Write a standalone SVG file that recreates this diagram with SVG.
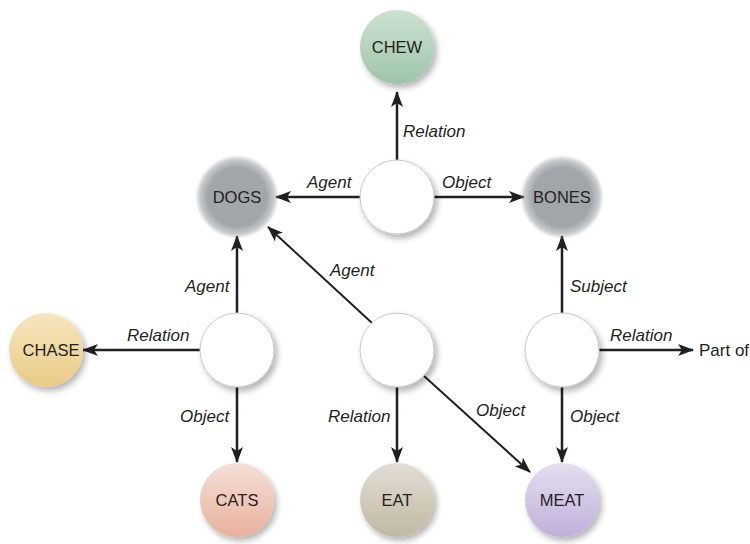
<svg xmlns="http://www.w3.org/2000/svg" width="750" height="544" viewBox="0 0 750 544">
<defs>
<style>
.lbl{font-family:"Liberation Sans",Arial,sans-serif;font-size:16.5px;fill:#231f20;text-anchor:middle}
.el{font-family:"Liberation Sans",Arial,sans-serif;font-size:17px;font-style:italic;fill:#231f20}
.pl{font-family:"Liberation Sans",Arial,sans-serif;font-size:17px;fill:#231f20}
.ln{stroke:#231f20;stroke-width:2.5;fill:none;marker-end:url(#ah)}
.hub{fill:#fff;stroke:#c8c8c8;stroke-width:1}
</style>
<marker id="ah" markerUnits="userSpaceOnUse" markerWidth="16" markerHeight="12" viewBox="0 0 16 12" refX="15" refY="6" orient="auto">
<path d="M0,0 L16,6 L0,12 L4,6 z" fill="#231f20"/>
</marker>
<filter id="sh" x="-30%" y="-30%" width="170%" height="170%">
<feGaussianBlur in="SourceAlpha" stdDeviation="3"/>
<feOffset dx="3" dy="4" result="b"/>
<feComponentTransfer><feFuncA type="linear" slope="0.3"/></feComponentTransfer>
<feMerge><feMergeNode/><feMergeNode in="SourceGraphic"/></feMerge>
</filter>
<radialGradient id="gGray">
<stop offset="0" stop-color="#a1a6ab"/>
<stop offset="0.7" stop-color="#a1a6ab"/>
<stop offset="0.88" stop-color="#a1a6ab" stop-opacity="0.6"/>
<stop offset="1" stop-color="#a1a6ab" stop-opacity="0"/>
</radialGradient>
<linearGradient id="gChew" x1="0" y1="0" x2="0" y2="1"><stop offset="0" stop-color="#cde2d2"/><stop offset="1" stop-color="#9ec4a8"/></linearGradient>
<linearGradient id="gChase" x1="0" y1="0" x2="0" y2="1"><stop offset="0" stop-color="#f6e6bf"/><stop offset="1" stop-color="#eacb86"/></linearGradient>
<linearGradient id="gCats" x1="0" y1="0" x2="0" y2="1"><stop offset="0" stop-color="#f5dfd6"/><stop offset="1" stop-color="#e8b19d"/></linearGradient>
<linearGradient id="gEat" x1="0" y1="0" x2="0" y2="1"><stop offset="0" stop-color="#e2ded3"/><stop offset="1" stop-color="#c0b8a3"/></linearGradient>
<linearGradient id="gMeat" x1="0" y1="0" x2="0" y2="1"><stop offset="0" stop-color="#e4def0"/><stop offset="1" stop-color="#bfb0da"/></linearGradient>
</defs>
<rect width="750" height="544" fill="#fff"/>

<g id="connectors">
<line class="ln" x1="397" y1="160" x2="397" y2="92"/>
<line class="ln" x1="360" y1="197" x2="276" y2="197"/>
<line class="ln" x1="434" y1="197" x2="524" y2="197"/>
<line class="ln" x1="237" y1="313" x2="237" y2="236"/>
<line class="ln" x1="200" y1="350" x2="83" y2="350"/>
<line class="ln" x1="237" y1="387" x2="237" y2="462"/>
<line class="ln" x1="372" y1="323" x2="268" y2="227" style="stroke-width:2"/>
<line class="ln" x1="397" y1="387" x2="397" y2="462"/>
<line class="ln" x1="424" y1="376" x2="530" y2="472" style="stroke-width:2"/>
<line class="ln" x1="562" y1="313" x2="562" y2="236"/>
<line class="ln" x1="599" y1="350" x2="693" y2="350"/>
<line class="ln" x1="562" y1="387" x2="562" y2="462"/>
<text class="el" x="403" y="137">Relation</text>
<text class="el" x="307" y="188">Agent</text>
<text class="el" x="442" y="188">Object</text>
<text class="el" x="185" y="292">Agent</text>
<text class="el" x="127" y="341">Relation</text>
<text class="el" x="180" y="422">Object</text>
<text class="el" x="330" y="276">Agent</text>
<text class="el" x="328" y="422">Relation</text>
<text class="el" x="476" y="416">Object</text>
<text class="el" x="570" y="292">Subject</text>
<text class="el" x="610" y="341">Relation</text>
<text class="el" x="570" y="422">Object</text>
<text class="pl" x="699" y="356">Part of</text>
</g>

<g id="chew"><circle cx="397" cy="47" r="37" fill="url(#gChew)" filter="url(#sh)"/><text class="lbl" x="397" y="53">CHEW</text></g>
<g id="dogs"><circle cx="237" cy="197" r="42" fill="url(#gGray)"/><text class="lbl" x="237" y="203">DOGS</text></g>
<g id="bones"><circle cx="562" cy="197" r="42" fill="url(#gGray)"/><text class="lbl" x="562" y="203">BONES</text></g>
<g id="hub1"><circle class="hub" cx="397" cy="197" r="37" filter="url(#sh)"/></g>
<g id="hub2"><circle class="hub" cx="237" cy="350" r="37" filter="url(#sh)"/></g>
<g id="hub3"><circle class="hub" cx="397" cy="350" r="37" filter="url(#sh)"/></g>
<g id="hub4"><circle class="hub" cx="562" cy="350" r="37" filter="url(#sh)"/></g>
<g id="chase"><circle cx="46" cy="350" r="37" fill="url(#gChase)" filter="url(#sh)"/><text class="lbl" x="51" y="356">CHASE</text></g>
<g id="cats"><circle cx="237" cy="500" r="37" fill="url(#gCats)" filter="url(#sh)"/><text class="lbl" x="237" y="506">CATS</text></g>
<g id="eat"><circle cx="397" cy="500" r="37" fill="url(#gEat)" filter="url(#sh)"/><text class="lbl" x="397" y="506">EAT</text></g>
<g id="meat"><circle cx="562" cy="500" r="37" fill="url(#gMeat)" filter="url(#sh)"/><text class="lbl" x="562" y="506">MEAT</text></g>
</svg>
